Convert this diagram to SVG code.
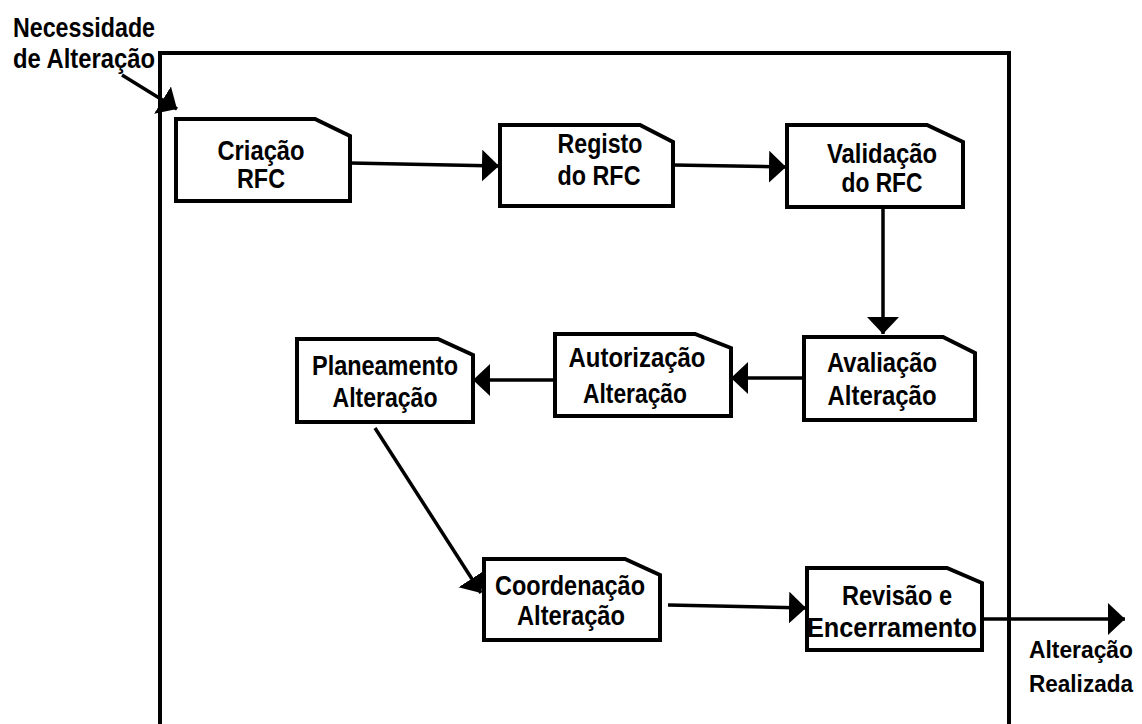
<svg xmlns="http://www.w3.org/2000/svg" width="1142" height="724" viewBox="0 0 1142 724">
  <style>
    .box { fill: #ffffff; stroke: #000000; stroke-width: 4; stroke-linejoin: miter; }
    .frame { fill: none; stroke: #000000; stroke-width: 4; }
    .lbl { font-family: "Liberation Sans", Arial, sans-serif; font-weight: bold; font-size: 27px; fill: #000000; text-anchor: middle; }
    .free { font-family: "Liberation Sans", Arial, sans-serif; font-weight: bold; font-size: 27px; fill: #000000; }
    .out { font-family: "Liberation Sans", Arial, sans-serif; font-weight: bold; font-size: 24px; fill: #000000; }
    .conn { fill: none; stroke: #000000; stroke-width: 3.5; }
  </style>
  <defs>
    <marker id="head" markerUnits="userSpaceOnUse" markerWidth="18" markerHeight="32" refX="17" refY="16" orient="auto" viewBox="0 0 18 32">
      <path d="M0,0 L17,16 L0,32 Z" fill="#000000"/>
    </marker>
  </defs>

  <rect width="1142" height="724" fill="#ffffff"/>

  <!-- process boundary -->
  <path class="frame" d="M160,730 V53 H1009 V730"/>

  <!-- external labels -->
  <text class="free" x="13" y="37" textLength="142" lengthAdjust="spacingAndGlyphs">Necessidade</text>
  <text class="free" x="13" y="68" textLength="142" lengthAdjust="spacingAndGlyphs">de Alteração</text>
  <text class="out" x="1029" y="658" textLength="104" lengthAdjust="spacingAndGlyphs">Alteração</text>
  <text class="out" x="1029" y="692" textLength="104" lengthAdjust="spacingAndGlyphs">Realizada</text>

  <g id="connectors">
    <line class="conn" x1="122" y1="75" x2="177" y2="109" marker-end="url(#head)"/>
    <line class="conn" x1="350" y1="163" x2="499" y2="166" marker-end="url(#head)"/>
    <line class="conn" x1="673" y1="165" x2="786" y2="167" marker-end="url(#head)"/>
    <line class="conn" x1="883" y1="203" x2="883" y2="334" marker-end="url(#head)"/>
    <line class="conn" x1="804" y1="378" x2="731" y2="378" marker-end="url(#head)"/>
    <line class="conn" x1="555" y1="380" x2="473" y2="380" marker-end="url(#head)"/>
    <line class="conn" x1="375" y1="428" x2="481" y2="593" marker-end="url(#head)"/>
    <line class="conn" x1="668" y1="605" x2="806" y2="608" marker-end="url(#head)"/>
    <line class="conn" x1="982" y1="619" x2="1125" y2="619" marker-end="url(#head)"/>
  </g>

  <g id="criacao">
    <polygon class="box" points="176,119 315,119 350,136 350,201 176,201"/>
    <text class="lbl" x="261" y="160" textLength="87" lengthAdjust="spacingAndGlyphs">Criação</text>
    <text class="lbl" x="261" y="188" textLength="48" lengthAdjust="spacingAndGlyphs">RFC</text>
  </g>

  <g id="registo">
    <polygon class="box" points="500,125 640,125 673,142 673,206 500,206"/>
    <text class="lbl" x="600" y="153" textLength="85" lengthAdjust="spacingAndGlyphs">Registo</text>
    <text class="lbl" x="599" y="185" textLength="83" lengthAdjust="spacingAndGlyphs">do RFC</text>
  </g>

  <g id="validacao">
    <polygon class="box" points="787,125 927,125 963,142 963,207 787,207"/>
    <text class="lbl" x="882" y="163" textLength="110" lengthAdjust="spacingAndGlyphs">Validação</text>
    <text class="lbl" x="882" y="192" textLength="81" lengthAdjust="spacingAndGlyphs">do RFC</text>
  </g>

  <g id="avaliacao">
    <polygon class="box" points="804,337 943,337 975,353 975,420 804,420"/>
    <text class="lbl" x="882" y="372" textLength="110" lengthAdjust="spacingAndGlyphs">Avaliação</text>
    <text class="lbl" x="882" y="405" textLength="109" lengthAdjust="spacingAndGlyphs">Alteração</text>
  </g>

  <g id="autorizacao">
    <polygon class="box" points="555,334 695,334 731,348 731,416 555,416"/>
    <text class="lbl" x="637" y="367" textLength="137" lengthAdjust="spacingAndGlyphs">Autorização</text>
    <text class="lbl" x="635" y="403" textLength="104" lengthAdjust="spacingAndGlyphs">Alteração</text>
  </g>

  <g id="planeamento">
    <polygon class="box" points="297,339 438,339 473,355 473,422 297,422"/>
    <text class="lbl" x="385" y="375" textLength="146" lengthAdjust="spacingAndGlyphs">Planeamento</text>
    <text class="lbl" x="385" y="407" textLength="105" lengthAdjust="spacingAndGlyphs">Alteração</text>
  </g>

  <g id="coordenacao">
    <polygon class="box" points="484,559 625,559 660,575 660,640 484,640"/>
    <text class="lbl" x="570" y="595" textLength="150" lengthAdjust="spacingAndGlyphs">Coordenação</text>
    <text class="lbl" x="571" y="625" textLength="108" lengthAdjust="spacingAndGlyphs">Alteração</text>
  </g>

  <g id="revisao">
    <polygon class="box" points="807,568 947,568 982,583 982,650 807,650"/>
    <text class="lbl" x="897" y="605" textLength="110" lengthAdjust="spacingAndGlyphs">Revisão e</text>
    <text class="lbl" x="892" y="637" textLength="170" lengthAdjust="spacingAndGlyphs">Encerramento</text>
  </g>
</svg>
